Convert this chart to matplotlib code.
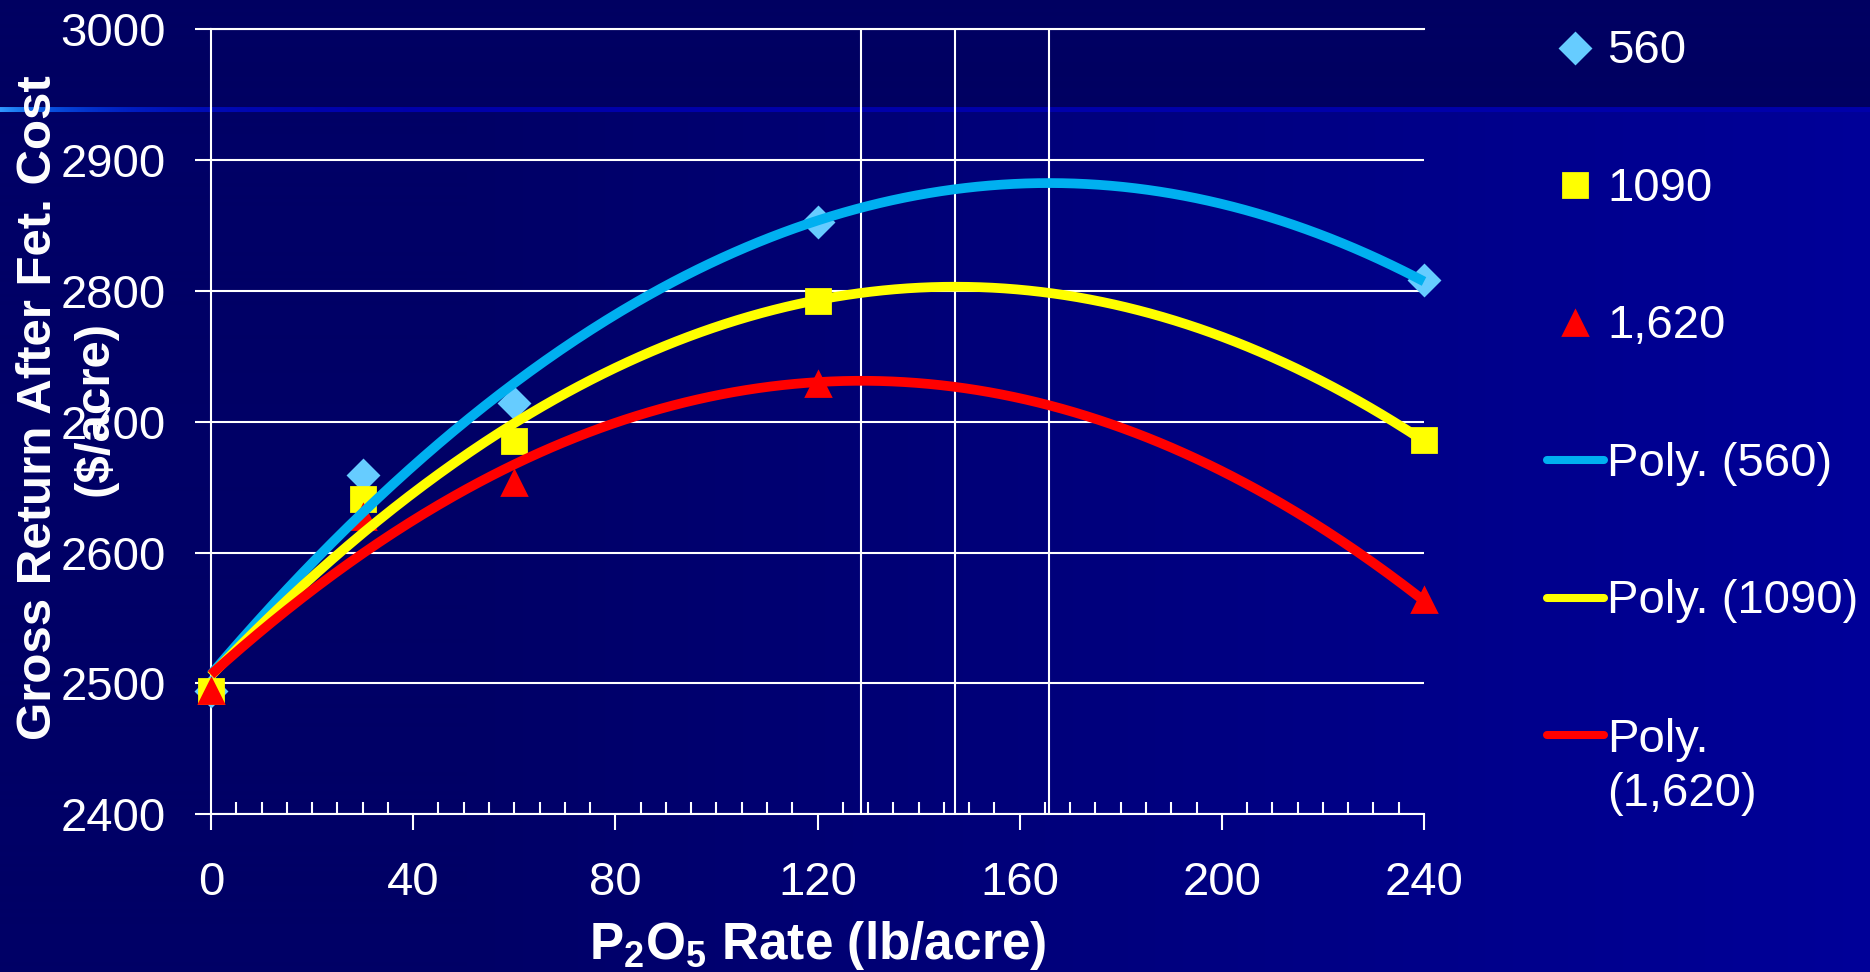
import numpy as np
import matplotlib.pyplot as plt
from matplotlib.lines import Line2D
from matplotlib.ticker import MultipleLocator

plt.rcParams['font.family'] = ['Liberation Sans', 'DejaVu Sans']
plt.rcParams['mathtext.fontset'] = 'custom'
plt.rcParams['mathtext.rm'] = 'Liberation Sans'
plt.rcParams['mathtext.bf'] = 'Liberation Sans:bold'

# P2O5 rates and gross return after fertilizer cost for three soil test levels
rates = [0, 30, 60, 120, 240]
ret_560 = [2494, 2659, 2714, 2853, 2808]
ret_1090 = [2494, 2641, 2685, 2792, 2686]
ret_1620 = [2494, 2627, 2653, 2729, 2564]

series_labels = ['560', '1090', '1,620']
trend_labels = ['Poly. (560)', 'Poly. (1090)', 'Poly.\n(1,620)']
marker_colors = ['#66CCFF', '#FFFF00', '#FF0000']
line_colors = ['#00B0F0', '#FFFF00', '#FF0000']
marker_shapes = ['D', 's', '^']
marker_sizes = [15, 17, 17]

x_ticks = [0, 40, 80, 120, 160, 200, 240]
y_ticks = [2400, 2500, 2600, 2700, 2800, 2900, 3000]

W, H = 1870, 972
fig = plt.figure(figsize=(W / 100, H / 100), dpi=100)

# slide background: dark band on top, left-to-right blue gradient below
bg = fig.add_axes([0, 0, 1, 1], zorder=-10)
bg.axis('off')
cols = np.arange(W)
img = np.zeros((H, W, 3))
img[:, :, 2] = (102 + 51 * np.clip((cols / W - 0.25) / 0.75, 0, 1)) / 255
img[:108, :, 2] = 98 / 255
img[108:113, :, 0] = (51 * np.exp(-cols / 30)) / 255
img[108:113, :, 1] = (153 * np.exp(-cols / 80)) / 255
img[108:113, :, 2] = (170 + 85 * np.exp(-cols / 100)) / 255
bg.imshow(img, aspect='auto', extent=[0, 1, 0, 1])
bg.set_xlim(0, 1)
bg.set_ylim(0, 1)

ax = fig.add_axes([211 / W, 1 - 814.3 / H, (1424 - 211) / W, 785 / H])
ax.set_facecolor('none')

all_returns = [ret_560, ret_1090, ret_1620]
xs = np.linspace(0, 240, 400)
for vals, mc, lc, m, ms in zip(all_returns, marker_colors, line_colors,
                               marker_shapes, marker_sizes):
    ax.plot(rates, vals, linestyle='none', marker=m, ms=ms, mfc=mc, mec=mc,
            mew=2, zorder=3, clip_on=False)
    coefs = np.polyfit(rates, vals, 2)
    ax.plot(xs, np.polyval(coefs, xs), color=lc, lw=7, zorder=4,
            solid_capstyle='butt', clip_on=False)
    # economic optimum rate of the fitted curve
    peak = -coefs[1] / (2 * coefs[0])
    ax.axvline(peak, color='white', lw=1.5, zorder=1)

ax.set_xlim(0, 240)
ax.set_ylim(2400, 3000)
ax.set_xticks(x_ticks)
ax.set_yticks(y_ticks)
ax.xaxis.set_minor_locator(MultipleLocator(5))
ax.grid(axis='y', color='white', lw=1.5, zorder=1)

for side in ['left', 'bottom', 'top']:
    ax.spines[side].set_color('white')
    ax.spines[side].set_linewidth(1.5)
ax.spines['right'].set_visible(False)

ax.tick_params(axis='y', direction='out', length=11.5, width=1.5,
               color='white', labelcolor='white', labelsize=34, pad=21)
ax.tick_params(axis='x', which='major', direction='out', length=11.5,
               width=1.5, color='white', labelcolor='white', labelsize=34,
               pad=22)
ax.tick_params(axis='x', which='minor', direction='in', length=8.6,
               width=1.5, color='white')

ax.set_ylabel('Gross Return After Fet. Cost\n($/acre)', fontsize=35.5,
              fontweight='bold', color='white', linespacing=1.34,
              va='center')
ax.yaxis.set_label_coords(-0.1187, 0.5176)
ax.set_xlabel(r'P$_\mathbf{2}$O$_\mathbf{5}$ Rate (lb/acre)', fontsize=37,
              fontweight='bold', color='white')
ax.xaxis.set_label_coords(0.5, -0.133)

# legend at the right
row_top = 47.7
row_step = 137.5
text_shift = 3.5
for i in range(3):
    y_px = row_top + i * row_step
    fig.add_artist(Line2D([1575 / W], [1 - y_px / H], marker=marker_shapes[i],
                          ms=marker_sizes[i], mfc=marker_colors[i],
                          mec=marker_colors[i], mew=2, linestyle='none'))
    fig.text(1607 / W, 1 - (y_px + text_shift) / H, series_labels[i],
             color='white', fontsize=34, va='center', ha='left')
for i in range(3):
    y_px = row_top + (i + 3) * row_step
    fig.add_artist(Line2D([1547 / W, 1604 / W], [1 - y_px / H] * 2,
                          color=line_colors[i], lw=5.8,
                          solid_capstyle='round'))
    n_lines = trend_labels[i].count('\n') + 1
    text_y = y_px + text_shift + (n_lines - 1) * 57 / 2
    fig.text(1607 / W, 1 - text_y / H, trend_labels[i], color='white',
             fontsize=34, va='center', ha='left', linespacing=1.29)

fig.savefig('out.png', dpi=100)
